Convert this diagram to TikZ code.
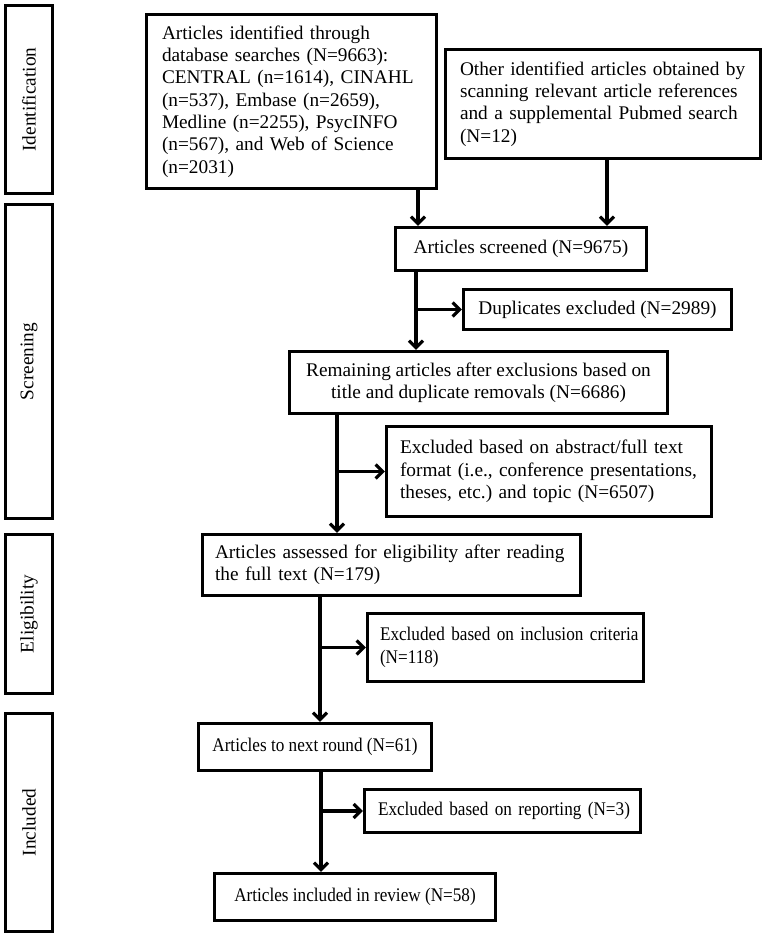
\documentclass[tikz,border=0pt]{standalone}
\usepackage{fontspec}
\setmainfont{Liberation Serif}
\newfontfamily\narrowserif[FakeStretch=0.89]{Liberation Serif}
\usetikzlibrary{arrows.meta}
\newcommand\myfs{\fontsize{19.3}{22.3}\selectfont\frenchspacing}
\newcommand\mysmfs{\narrowserif\fontsize{19.3}{22.3}\selectfont\frenchspacing}
\begin{document}
\begin{tikzpicture}[x=1pt,y=-1pt,
  box/.style={draw, line width=3.2pt, inner sep=0pt, font=\myfs, align=center},
  lbox/.style={box, align=left},
  narrow/.style={font=\mysmfs},
  arr/.style={line width=3.2pt, -{Straight Barb[length=7pt,width=14pt]}}]
\useasboundingbox (0,0) rectangle (765,936);
% stage boxes
\node[box, rotate=90, minimum width=188pt, minimum height=47pt] (s1) at (29,99.5) {Identification};
\node[box, rotate=90, minimum width=314pt, minimum height=47pt] (s2) at (29,361.5) {Screening};
\node[box, rotate=90, minimum width=159pt, minimum height=47pt] (s3) at (29,614) {Eligibility};
\node[box, rotate=90, minimum width=218pt, minimum height=47pt] (s4) at (29,822.5) {Included};
% main boxes
\node[lbox, minimum width=290pt, minimum height=174pt, text width=259pt] (A) at (291.5,101.5)
  {Articles identified through\\database searches (N=9663):\\CENTRAL (n=1614), CINAHL\\(n=537), Embase (n=2659),\\Medline (n=2255), PsycINFO\\(n=567), and Web of Science\\(n=2031)};
\node[lbox, minimum width=315pt, minimum height=109pt, text width=286pt] (B) at (603,104)
  {Other identified articles obtained by\\scanning relevant article references\\and a supplemental Pubmed search\\(N=12)};
\node[box, minimum width=251pt, minimum height=43pt] (C) at (521,249) {Articles screened (N=9675)};
\node[box, minimum width=268pt, minimum height=40pt] (Dup) at (597.5,309.5) {Duplicates excluded (N=2989)};
\node[box, minimum width=378pt, minimum height=62pt] (D) at (478.5,382.5)
  {Remaining articles after exclusions based on\\title and duplicate removals (N=6686)};
\node[lbox, minimum width=325pt, minimum height=90pt, text width=298pt] (X1) at (549,471.5)
  {\mbox{Excluded based on abstract/full text}\\\mbox{format (i.e., conference presentations,}\\\mbox{theses, etc.) and topic (N=6507)}};
\node[lbox, minimum width=378pt, minimum height=61pt, text width=353pt] (E) at (391.5,565)
  {\mbox{Articles assessed for eligibility after reading}\\the full text (N=179)};
\node[lbox, narrow, minimum width=276pt, minimum height=68pt, text width=251pt] (X2) at (505.5,647.5)
  {\mbox{Excluded based on inclusion criteria}\\(N=118)};
\node[box, narrow, minimum width=233pt, minimum height=47pt] (F) at (315,747) {Articles to next round (N=61)};
\node[lbox, narrow, minimum width=276pt, minimum height=43pt, text width=249pt] (X3) at (502.5,811)
  {\mbox{Excluded based on reporting (N=3)}};
\node[box, narrow, minimum width=281pt, minimum height=47pt] (G) at (355,897) {Articles included in review (N=58)};
% arrow columns
\coordinate (xa) at (418,0);
\coordinate (xb) at (607,0);
\coordinate (xc) at (416,0);
\coordinate (xd) at (337,0);
\coordinate (xe) at (320,0);
\coordinate (xf) at (321,0);
\draw[arr] (A.south -| xa) -- (C.north -| xa);
\draw[arr] (B.south -| xb) -- (C.north -| xb);
\draw[arr] (C.south -| xc) -- (D.north -| xc);
\draw[arr] (xc |- Dup.west) -- (Dup.west);
\draw[arr] (D.south -| xd) -- (E.north -| xd);
\draw[arr] (xd |- X1.west) -- (X1.west);
\draw[arr] (E.south -| xe) -- (F.north -| xe);
\draw[arr] (xe |- X2.west) -- (X2.west);
\draw[arr] (F.south -| xf) -- (G.north -| xf);
\draw[arr] (xf |- X3.west) -- (X3.west);
\end{tikzpicture}
\end{document}
